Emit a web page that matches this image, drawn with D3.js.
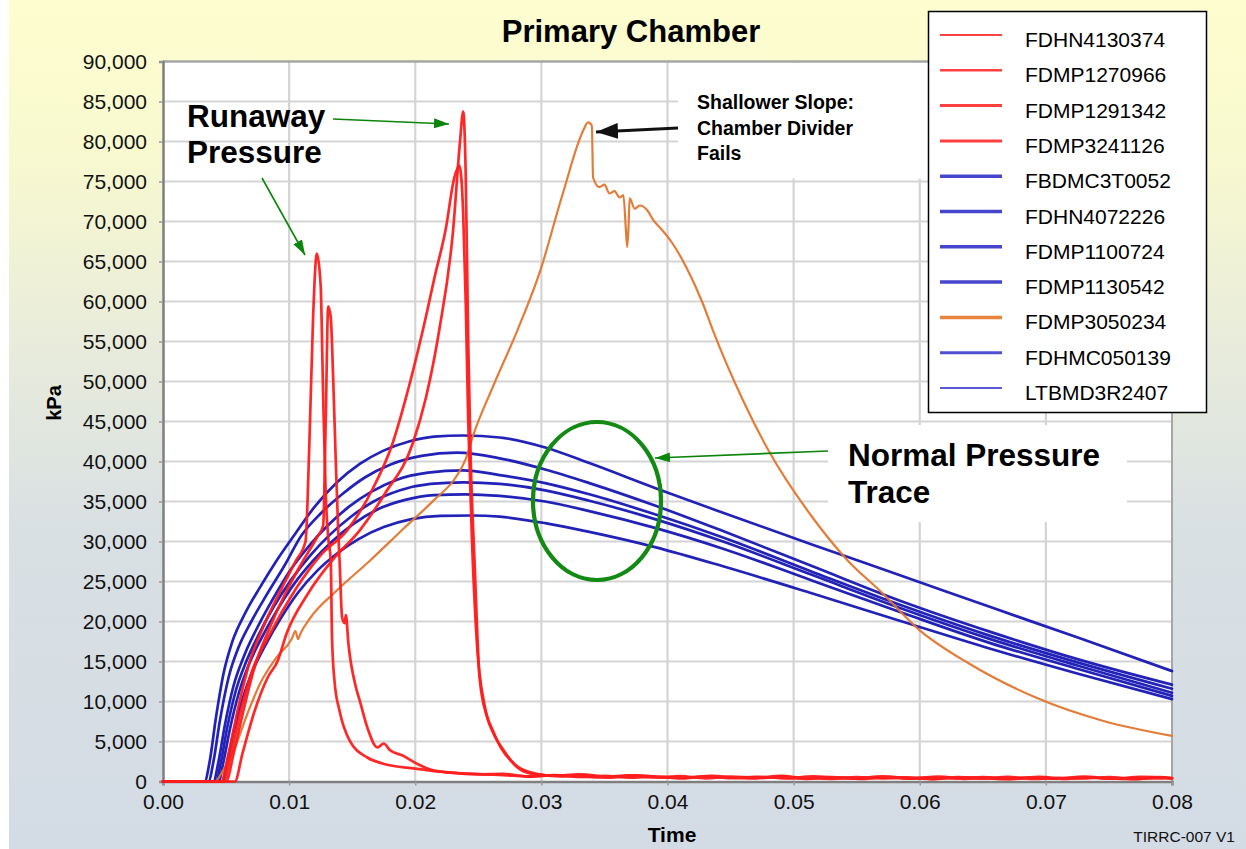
<!DOCTYPE html>
<html>
<head>
<meta charset="utf-8">
<script src="https://cdn.jsdelivr.net/npm/d3@7"></script>
<style>
  html, body { margin: 0; padding: 0; background: #fff; }
  svg { display: block; font-family: Arial, "Liberation Sans", sans-serif; }
</style>
</head>
<body>
<svg id="chart" width="1246" height="849"></svg>
<script>
// ---------- DATA ----------
const seriesNames = ["FDHN4130374","FDMP1270966","FDMP1291342","FDMP3241126",
  "FBDMC3T0052","FDHN4072226","FDMP1100724","FDMP1130542","FDMP3050234","FDHMC050139","LTBMD3R2407"];

const xTicks = [0, 0.01, 0.02, 0.03, 0.04, 0.05, 0.06, 0.07, 0.08];
const yTicks = [0,5000,10000,15000,20000,25000,30000,35000,40000,45000,50000,55000,60000,65000,70000,75000,80000,85000,90000];

// [time (s), pressure (kPa)]
const FDHN4130374 = [[0,0],[0.0046,0],[0.0052,3500],[0.0060,9500],[0.0069,15100],[0.0080,19500],[0.0093,23800],[0.0105,27500],[0.0113,30000],[0.0116,42000],[0.0119,58000],[0.0122,66000],[0.0125,62000],[0.0127,48000],[0.0129,36000],[0.0131,30500],[0.0133,27600],[0.0134,18000],[0.0136,12500],[0.0140,8800],[0.0148,5100],[0.0162,3000],[0.0174,2250],[0.0200,1600],[0.0228,1100],[0.0254,900],
  [0.027,800],[0.029,650],[0.031,760],[0.033,560],[0.035,700],[0.037,480],[0.039,620],[0.041,440],[0.043,600],[0.045,420],[0.047,580],[0.049,460],[0.051,380],[0.053,560],[0.055,420],[0.057,520],[0.059,360],[0.061,500],[0.063,400],[0.065,540],[0.067,340],[0.069,480],[0.071,380],[0.073,520],[0.075,360],[0.077,460],[0.079,380],[0.08,440]];
const FDMP1270966 = [[0,0],[0.0050,0],[0.0056,3500],[0.0064,9000],[0.0073,14500],[0.0084,19000],[0.0097,23500],[0.0110,27300],[0.0122,30500],[0.0127,32000],[0.0129,45000],[0.0131,59400],[0.0133,58000],[0.0135,50000],[0.0137,40000],[0.0139,31000],[0.0140,27600],[0.0142,20500],[0.0144,19800],[0.0145,20800],[0.0147,17250],[0.0153,11750],[0.0156,10100],[0.0162,6750],[0.0170,4250],[0.0175,4750],[0.0180,3900],[0.0190,3250],[0.0201,2250],[0.0214,1400],[0.0228,1100],[0.0250,900],
  [0.027,950],[0.029,620],[0.031,800],[0.033,640],[0.035,500],[0.037,720],[0.039,560],[0.041,420],[0.043,640],[0.045,500],[0.047,380],[0.049,600],[0.051,460],[0.053,340],[0.055,560],[0.057,400],[0.059,520],[0.061,340],[0.063,480],[0.065,360],[0.067,580],[0.069,320],[0.071,460],[0.073,380],[0.075,560],[0.077,300],[0.079,500],[0.08,380]];
const FDMP1291342 = [[0,0],[0.0057,0],[0.0063,3500],[0.0072,8500],[0.0083,13000],[0.0091,15100],[0.0098,18500],[0.0115,23500],[0.0135,27800],[0.0156,31400],[0.0176,36000],[0.0198,42250],[0.02085,48000],[0.0219,56400],[0.0230,68900],[0.02355,80000],[0.0238,83750],[0.0240,76000],[0.0242,55000],[0.0244,40000],[0.0247,27600],[0.0251,13000],[0.0257,8000],[0.0262,6000],[0.0270,3900],[0.0281,1750],[0.0293,950],
  [0.031,720],[0.033,880],[0.035,580],[0.037,760],[0.039,500],[0.041,680],[0.043,400],[0.045,620],[0.047,460],[0.049,700],[0.051,340],[0.053,480],[0.055,380],[0.057,640],[0.059,420],[0.061,300],[0.063,560],[0.065,440],[0.067,280],[0.069,500],[0.071,360],[0.073,600],[0.075,400],[0.077,320],[0.079,540],[0.08,380]];
const FDMP3241126 = [[0,0],[0.0048,0],[0.0054,3500],[0.0062,9000],[0.0070,13500],[0.0085,18500],[0.0105,24000],[0.0125,28300],[0.0146,31400],[0.0166,36500],[0.0182,42250],[0.0192,47600],[0.0206,56400],[0.0216,63500],[0.0224,68900],[0.0231,75500],[0.0235,77000],[0.0238,71000],[0.0240,60000],[0.0242,45000],[0.0245,30000],[0.0249,17000],[0.0255,9500],[0.0262,6200],[0.0268,4200],[0.0280,2000],[0.0295,1000],
  [0.0315,640],[0.0335,820],[0.0355,520],[0.0375,760],[0.0395,580],[0.0415,420],[0.0435,700],[0.0455,440],[0.0475,560],[0.0495,400],[0.0515,640],[0.0535,460],[0.0555,320],[0.0575,560],[0.0595,420],[0.0615,600],[0.0635,340],[0.0655,480],[0.0675,380],[0.0695,580],[0.0715,320],[0.0735,500],[0.0755,360],[0.0775,580],[0.08,420]];

const FBDMC3T0052 = [[0,0],[0.0033,0],[0.0037,2500],[0.0042,8000],[0.0048,13500],[0.0055,17500],[0.0065,21000],[0.0077,24300],[0.0090,27600],[0.0105,31000],[0.0120,34300],[0.0138,37400],[0.0156,39700],[0.0174,41300],[0.0195,42500],[0.0215,43100],[0.0238,43250],[0.0267,43000],[0.0303,41750],[0.0338,39800],[0.039,36700],[0.0444,33600],[0.0515,29600],[0.0586,25700],[0.0656,21800],[0.0727,17900],[0.08,13800]];
const FDHN4072226 = [[0,0],[0.0036,0],[0.0040,2500],[0.0045,7500],[0.0052,13000],[0.0060,16800],[0.0070,20000],[0.0082,23300],[0.0096,26900],[0.0110,30800],[0.0125,33500],[0.0142,35900],[0.0160,38000],[0.0180,39600],[0.0205,40700],[0.0233,41100],[0.0267,40400],[0.0303,39000],[0.0338,37300],[0.039,34500],[0.0444,31300],[0.0515,26900],[0.0586,22500],[0.0656,18700],[0.0727,15200],[0.08,12100]];
const FDMP1100724 = [[0,0],[0.0040,0],[0.0044,2500],[0.0049,7000],[0.0056,12000],[0.0064,15600],[0.0074,19000],[0.0086,22500],[0.0100,26200],[0.0115,29300],[0.0130,31900],[0.0147,34300],[0.0165,36200],[0.0185,37700],[0.0210,38600],[0.0238,38900],[0.0267,38300],[0.0303,37300],[0.0338,35900],[0.039,33400],[0.0444,30500],[0.0515,26200],[0.0586,22000],[0.0656,18200],[0.0727,14800],[0.08,11600]];
const FDMP1130542 = [[0,0],[0.0042,0],[0.0046,2500],[0.0051,6800],[0.0058,11500],[0.0066,15000],[0.0076,18400],[0.0088,21900],[0.0102,25300],[0.0117,28300],[0.0132,30800],[0.0149,33100],[0.0167,35000],[0.0188,36400],[0.0212,37200],[0.0238,37400],[0.0267,37200],[0.0303,36400],[0.0338,35100],[0.039,32800],[0.0444,30000],[0.0515,25800],[0.0586,21600],[0.0656,17800],[0.0727,14400],[0.08,11100]];
const FDMP3050234 = [[0,0],[0.0041,0],[0.0048,1500],[0.0057,4250],[0.0067,8500],[0.0077,12250],[0.0090,15500],[0.0102,17800],[0.0105,18800],[0.0107,17800],[0.0109,18500],[0.0117,20500],[0.0138,23900],[0.0164,27600],[0.0190,31500],[0.0215,35200],[0.0232,38000],[0.0240,40300],[0.0246,43300],[0.0262,49500],[0.0281,56400],[0.0299,63800],[0.0317,73500],[0.0333,81300],[0.0337,82400],[0.0340,82000],[0.0341,75500],[0.0346,74300],[0.0350,74600],[0.0354,73500],[0.0358,73800],[0.0362,73000],[0.0365,73300],[0.0367,69000],[0.0368,66800],[0.0369,69000],[0.0370,72900],[0.0374,71600],[0.0378,72000],[0.0384,71400],[0.0389,70100],[0.0394,69250],[0.0404,67250],[0.0415,64250],[0.0428,59750],[0.0436,56400],[0.0460,47600],[0.0480,41400],[0.0515,33000],[0.0543,27600],[0.0568,23900],[0.0600,18900],[0.0639,14750],[0.0692,10500],[0.0745,7600],[0.080,5700]];
const FDHMC050139 = [[0,0],[0.0044,0],[0.0048,2500],[0.0053,6500],[0.0060,11000],[0.0068,14600],[0.0078,17900],[0.0090,21300],[0.0104,24700],[0.0119,27600],[0.0134,30000],[0.0151,32200],[0.0170,34000],[0.0192,35200],[0.0215,35800],[0.0240,35900],[0.0267,35700],[0.0303,35000],[0.0338,33800],[0.039,31700],[0.0444,29100],[0.0515,25100],[0.0586,21100],[0.0656,17300],[0.0727,14000],[0.08,10700]];
const LTBMD3R2407 = [[0,0],[0.0047,0],[0.0051,2500],[0.0056,6200],[0.0063,10300],[0.0071,13800],[0.0081,17000],[0.0093,20300],[0.0107,23600],[0.0122,26300],[0.0138,28500],[0.0155,30300],[0.0175,31800],[0.0197,32800],[0.0220,33200],[0.0245,33250],[0.0267,33100],[0.0303,32300],[0.0338,31200],[0.039,29300],[0.0444,26900],[0.0515,23500],[0.0586,20000],[0.0656,16600],[0.0727,13400],[0.08,10300]];

// ---------- STYLES ----------
const RED = "#ff1c1c", BLUE = "#1616b4", ORANGE = "#e2752e";
const seriesColors = [RED,RED,RED,RED,BLUE,BLUE,BLUE,BLUE,ORANGE,BLUE,BLUE];
const legendColors = ["#ff4040","#ff4040","#ff4040","#ff4040","#4646cc","#4646cc","#4646cc","#4646cc","#e8843c","#5050d0","#5a5ad6"];
const legendWidths = [2,2.5,3,3,3.5,3.5,3.5,3.5,3.5,3,2];
const seriesData = [FDHN4130374,FDMP1270966,FDMP1291342,FDMP3241126,FBDMC3T0052,FDHN4072226,FDMP1100724,FDMP1130542,FDMP3050234,FDHMC050139,LTBMD3R2407];

// ---------- LAYOUT ----------
const svg = d3.select("#chart");
const L = 163, R = 1172, T = 61.5, B = 781.5;

const defs = svg.append("defs");
const grad = defs.append("linearGradient").attr("id","bg").attr("x1",0).attr("y1",0).attr("x2",0).attr("y2",1);
[["0%","#fdfdcf"],["18%","#f8f9cf"],["40%","#e9ecdb"],["62%","#d9e0e3"],["100%","#d3dbe5"]]
  .forEach(([o,c]) => grad.append("stop").attr("offset",o).attr("stop-color",c));

function marker(id, color, len, half) {
  defs.append("marker").attr("id", id).attr("markerUnits","userSpaceOnUse")
    .attr("viewBox", `0 ${-half} ${len} ${2*half}`).attr("refX", len).attr("refY", 0)
    .attr("markerWidth", len).attr("markerHeight", 2*half).attr("orient","auto")
    .append("path").attr("d", `M0,${-half}L${len},0L0,${half}Z`).attr("fill", color);
}
marker("garrow", "#0b860b", 15, 5);
marker("barrow", "#111", 22, 8);

svg.append("rect").attr("width",1246).attr("height",849).attr("fill","url(#bg)");
svg.append("rect").attr("width",9).attr("height",849).attr("fill","#fff");

const x = d3.scaleLinear().domain([0, 0.08]).range([L, R]);
const y = d3.scaleLinear().domain([0, 90000]).range([B, T]);

// plot background
svg.append("rect").attr("x",L).attr("y",T).attr("width",R-L).attr("height",B-T).attr("fill","#fff");

// gridlines
const grid = svg.append("g").attr("stroke","#d4d4d4").attr("stroke-width",2.2);
yTicks.filter(v => v > 0 && v < 90000).forEach(v =>
  grid.append("line").attr("x1",L).attr("x2",R).attr("y1",y(v)).attr("y2",y(v)));
xTicks.filter(v => v > 0 && v < 0.08).forEach(v =>
  grid.append("line").attr("x1",x(v)).attr("x2",x(v)).attr("y1",T).attr("y2",B));

// white boxes behind annotation texts
svg.append("rect").attr("x",678).attr("y",T+1).attr("width",260).attr("height",116).attr("fill","#fff");
svg.append("rect").attr("x",828).attr("y",425).attr("width",299).attr("height",97).attr("fill","#fff");

// plot frame
svg.append("line").attr("x1",L).attr("x2",R).attr("y1",T).attr("y2",T).attr("stroke","#a6a6a6").attr("stroke-width",2.5);
svg.append("line").attr("x1",R).attr("x2",R).attr("y1",T).attr("y2",B).attr("stroke","#a6a6a6").attr("stroke-width",2);

// axes
const yAxis = d3.axisLeft(y).tickValues(yTicks).tickFormat(d3.format(",")).tickSize(4).tickPadding(12);
const xAxis = d3.axisBottom(x).tickValues(xTicks).tickFormat(d3.format(".2f")).tickSize(4).tickPadding(9);
const gy = svg.append("g").attr("transform",`translate(${L},0)`).call(yAxis);
const gx = svg.append("g").attr("transform",`translate(0,${B})`).call(xAxis);
[gx, gy].forEach(g => {
  g.select(".domain").attr("stroke","#7f7f7f").attr("stroke-width",2.5);
  g.selectAll(".tick line").attr("stroke","#9a9a9a").attr("stroke-width",1.5);
  g.selectAll(".tick text").attr("fill","#111").style("font-size","21px").style("font-family","Arial, 'Liberation Sans', sans-serif");
});

// series
const line = d3.line().x(d => x(d[0])).y(d => y(d[1])).curve(d3.curveMonotoneX);
const drawOrder = [4,5,6,7,9,10,8,0,1,2,3];
const lines = svg.append("g").attr("fill","none").attr("stroke-linejoin","round").attr("stroke-linecap","round");
drawOrder.forEach(i => {
  lines.append("path").attr("d", line(seriesData[i]))
    .attr("stroke", seriesColors[i])
    .attr("stroke-width", i === 8 ? 2.2 : 2.7)
    .attr("stroke-opacity", 0.95);
});

// title & axis labels
svg.append("text").attr("x",631).attr("y",42).attr("text-anchor","middle")
  .style("font-size","31px").style("font-weight","bold").attr("fill","#000").text("Primary Chamber");
svg.append("text").attr("x",672).attr("y",842).attr("text-anchor","middle")
  .style("font-size","21px").style("font-weight","bold").attr("fill","#000").text("Time");
svg.append("text").attr("transform","translate(61,403) rotate(-90)").attr("text-anchor","middle")
  .style("font-size","20px").style("font-weight","bold").attr("fill","#000").text("kPa");
svg.append("text").attr("x",1235).attr("y",842).attr("text-anchor","end")
  .style("font-size","15.5px").attr("fill","#111").text("TIRRC-007 V1");

// annotations
const ann = svg.append("g").style("font-weight","bold").attr("fill","#000");
ann.append("text").attr("x",187).attr("y",127).style("font-size","31.5px").text("Runaway");
ann.append("text").attr("x",187).attr("y",163).style("font-size","31.5px").text("Pressure");
ann.append("text").attr("x",697).attr("y",109).style("font-size","19.5px").text("Shallower Slope:");
ann.append("text").attr("x",697).attr("y",135).style("font-size","19.5px").text("Chamber Divider");
ann.append("text").attr("x",697).attr("y",160).style("font-size","19.5px").text("Fails");
ann.append("text").attr("x",848).attr("y",466).style("font-size","31.5px").text("Normal Pressure");
ann.append("text").attr("x",848).attr("y",503).style("font-size","31.5px").text("Trace");

const arrows = svg.append("g");
arrows.append("line").attr("x1",333).attr("y1",119).attr("x2",449).attr("y2",124)
  .attr("stroke","#0b860b").attr("stroke-width",1.6).attr("marker-end","url(#garrow)");
arrows.append("line").attr("x1",262).attr("y1",178).attr("x2",305).attr("y2",255)
  .attr("stroke","#0b860b").attr("stroke-width",1.6).attr("marker-end","url(#garrow)");
arrows.append("line").attr("x1",828).attr("y1",451).attr("x2",655).attr("y2",458)
  .attr("stroke","#0b860b").attr("stroke-width",1.6).attr("marker-end","url(#garrow)");
arrows.append("line").attr("x1",678).attr("y1",128).attr("x2",596).attr("y2",132)
  .attr("stroke","#111").attr("stroke-width",3).attr("marker-end","url(#barrow)");
svg.append("ellipse").attr("cx",597).attr("cy",501).attr("rx",64).attr("ry",79)
  .attr("fill","none").attr("stroke","#138a13").attr("stroke-width",4.2);

// legend
const lg = svg.append("g");
lg.append("rect").attr("x",928.5).attr("y",11.5).attr("width",278).attr("height",401)
  .attr("fill","#fff").attr("stroke","#000").attr("stroke-width",1.5);
seriesNames.forEach((name, i) => {
  const ly = 35 + i * 35.3;
  lg.append("line").attr("x1",940).attr("x2",1002).attr("y1",ly).attr("y2",ly)
    .attr("stroke", legendColors[i]).attr("stroke-width", legendWidths[i]);
  lg.append("text").attr("x",1025).attr("y",ly + 12).style("font-size","21px").attr("fill","#000").text(name);
});
</script>
</body>
</html>
